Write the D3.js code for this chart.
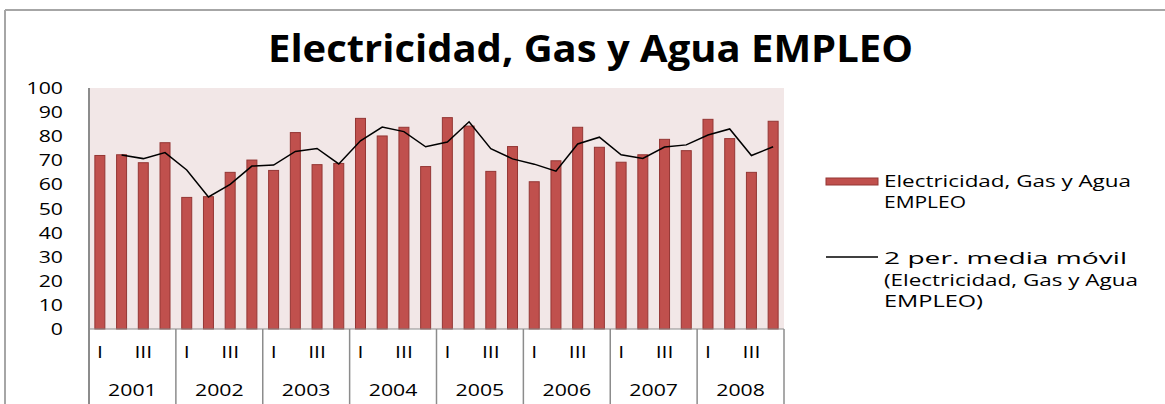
<!DOCTYPE html>
<html>
<head>
<meta charset="utf-8">
<script src="https://cdn.jsdelivr.net/npm/d3@7"></script>
<style>
  body { margin: 0; background: #fff; }
  svg { display: block; }
  text { font-family: "Open Sans", sans-serif; fill: #000; }
</style>
</head>
<body>
<svg id="chart"></svg>
<script>
// Data
const years = ["2001", "2002", "2003", "2004", "2005", "2006", "2007", "2008"];
const quarters = ["I", "II", "III", "IV"];
const empleo = [72, 72.3, 69, 77.3, 54.6, 54.9, 65, 70.1,
                65.8, 81.5, 68.2, 68.7, 87.4, 80.1, 83.7, 67.4,
                87.7, 84.2, 65.4, 75.7, 61.1, 69.8, 83.7, 75.4,
                69.2, 72.3, 78.7, 74, 87, 79, 65, 86.2];
// 2 per. media movil (first quarter has no value)
const mediaMovil = [null, 72.2, 70.7, 73.2, 66, 54.8, 60, 67.6,
                    68, 73.7, 74.9, 68.5, 78.1, 83.8, 81.9, 75.6,
                    77.6, 86, 74.8, 70.6, 68.4, 65.5, 76.8, 79.6,
                    72.3, 70.8, 75.5, 76.4, 80.5, 83, 72, 75.6];
const yTicks = [0, 10, 20, 30, 40, 50, 60, 70, 80, 90, 100];

const W = 1165, H = 404;
const plot = { left: 89, right: 784, top: 88, bottom: 329 };
const sx = 1.33; // horizontal stretch of the text in the picture

const svg = d3.select("#chart").attr("width", W).attr("height", H);

const keys = d3.range(empleo.length);
const x = d3.scaleBand()
    .domain(keys)
    .range([plot.left, plot.right])
    .paddingInner(0.54)
    .paddingOuter(0.27);
const y = d3.scaleLinear().domain([0, 100]).range([plot.bottom, plot.top]);

// stretched text helper
function stext(g, tx, ty, str, size, anchor, weight) {
    return g.append("text")
        .attr("transform", `translate(${tx},${ty}) scale(${sx},1)`)
        .attr("text-anchor", anchor || "start")
        .style("font-size", size + "px")
        .style("font-weight", weight || "normal")
        .text(str);
}

// outer border
svg.append("line").attr("x1", 5).attr("x2", W).attr("y1", 10).attr("y2", 10)
    .attr("stroke", "#a6a6a6").attr("stroke-width", 2);
svg.append("line").attr("x1", 5).attr("x2", 5).attr("y1", 10).attr("y2", H)
    .attr("stroke", "#a6a6a6").attr("stroke-width", 2);

// title
svg.append("text")
    .attr("x", 268).attr("y", 62)
    .attr("textLength", 645).attr("lengthAdjust", "spacingAndGlyphs")
    .style("font-size", "37px").style("font-weight", "bold")
    .text("Electricidad, Gas y Agua EMPLEO");

// plot background
svg.append("rect")
    .attr("x", plot.left).attr("y", plot.top)
    .attr("width", plot.right - plot.left).attr("height", plot.bottom - plot.top)
    .attr("fill", "#f2e7e7");

// y tick labels
const yg = svg.append("g");
yTicks.forEach(t => {
    stext(yg, 63, y(t) + 6, String(t), 16, "end");
});

// bars
svg.append("g").selectAll("rect")
    .data(empleo)
    .enter()
    .append("rect")
    .attr("x", (d, i) => x(i))
    .attr("y", d => y(d))
    .attr("width", x.bandwidth())
    .attr("height", d => y(0) - y(d))
    .attr("fill", "#c0504d")
    .attr("stroke", "#943634")
    .attr("stroke-width", 1);

// moving average line
const line = d3.line()
    .defined(d => d != null)
    .x((d, i) => x(i) + x.bandwidth() / 2)
    .y(d => y(d));
svg.append("path")
    .datum(mediaMovil)
    .attr("d", line)
    .attr("fill", "none")
    .attr("stroke", "#000")
    .attr("stroke-width", 1.5);

// category axis
const ax = svg.append("g");
const step = x.step();
ax.append("line")
    .attr("x1", plot.left).attr("x2", plot.left)
    .attr("y1", plot.top).attr("y2", H)
    .attr("stroke", "#8c8c8c").attr("stroke-width", 2);
ax.append("line")
    .attr("x1", plot.left).attr("x2", plot.right)
    .attr("y1", plot.bottom).attr("y2", plot.bottom)
    .attr("stroke", "#8c8c8c").attr("stroke-width", 1);
years.forEach((yr, j) => {
    const x0 = x(j * 4) - step * 0.27;
    const x1 = x0 + step * 4;
    ax.append("line")
        .attr("x1", x1).attr("x2", x1)
        .attr("y1", plot.bottom).attr("y2", H)
        .attr("stroke", "#8c8c8c").attr("stroke-width", 1.5);
    quarters.forEach((q, k) => {
        if (k % 2 === 1) return; // only I and III fit
        const i = j * 4 + k;
        stext(ax, x(i) + x.bandwidth() / 2, 358, q, 16, "middle");
    });
    stext(ax, (x0 + x1) / 2, 396, yr, 16, "middle");
});

// legend
const lg = svg.append("g");
lg.append("rect")
    .attr("x", 826).attr("y", 178).attr("width", 52).attr("height", 7)
    .attr("fill", "#c0504d").attr("stroke", "#943634").attr("stroke-width", 1);
lg.append("line")
    .attr("x1", 826).attr("x2", 878).attr("y1", 257).attr("y2", 257)
    .attr("stroke", "#000").attr("stroke-width", 1.5);

const legendLines = [
    { t: "Electricidad, Gas y Agua", y: 187, w: 247 },
    { t: "EMPLEO", y: 208, w: 82 },
    { t: "2 per. media móvil", y: 264, w: 243 },
    { t: "(Electricidad, Gas y Agua", y: 286, w: 254 },
    { t: "EMPLEO)", y: 307, w: 99 }
];
legendLines.forEach(l => {
    lg.append("text")
        .attr("x", 884).attr("y", l.y)
        .attr("textLength", l.w).attr("lengthAdjust", "spacingAndGlyphs")
        .style("font-size", "16.5px")
        .text(l.t);
});
</script>
</body>
</html>
